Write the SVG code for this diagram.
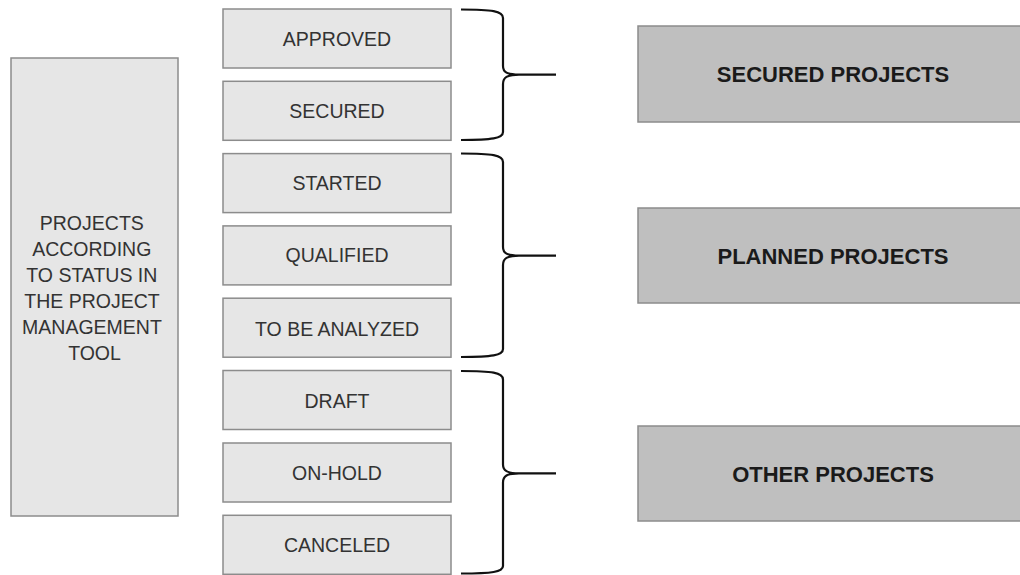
<svg xmlns="http://www.w3.org/2000/svg" width="1020" height="575" viewBox="0 0 1020 575">
  <style>
    .status rect { fill: #e6e6e6; stroke: #8c8c8c; stroke-width: 1.5; }
    .status text { font-family: "Liberation Sans", Arial, sans-serif; font-size: 19.5px; fill: #333333; text-anchor: middle; }
    .source rect { fill: #e6e6e6; stroke: #8c8c8c; stroke-width: 1.5; }
    .source text { font-family: "Liberation Sans", Arial, sans-serif; font-size: 19.5px; fill: #333333; text-anchor: middle; }
    .group rect { fill: #bfbfbf; stroke: #8c8c8c; stroke-width: 1.5; }
    .group text { font-family: "Liberation Sans", Arial, sans-serif; font-size: 22px; font-weight: bold; fill: #1a1a1a; text-anchor: middle; }
    .brace { fill: none; stroke: #111111; stroke-width: 2.2; stroke-linejoin: round; }
  </style>

  <rect width="1020" height="575" fill="#ffffff"/>

  <!-- source box on the left -->
  <g id="node-source" class="source">
    <rect x="11" y="58" width="167" height="458"/>
    <text x="94.5">
      <tspan x="94.5" y="230">PROJECTS</tspan>
      <tspan x="94.5" y="256">ACCORDING</tspan>
      <tspan x="94.5" y="282">TO STATUS IN</tspan>
      <tspan x="94.5" y="308">THE PROJECT</tspan>
      <tspan x="94.5" y="334">MANAGEMENT</tspan>
      <tspan x="94.5" y="360">TOOL</tspan>
    </text>
  </g>

  <!-- status boxes -->
  <g id="node-approved" class="status">
    <rect x="223" y="9" width="228" height="59"/>
    <text x="337" y="45.5">APPROVED</text>
  </g>
  <g id="node-secured" class="status">
    <rect x="223" y="81.3" width="228" height="59"/>
    <text x="337" y="117.8">SECURED</text>
  </g>
  <g id="node-started" class="status">
    <rect x="223" y="153.6" width="228" height="59"/>
    <text x="337" y="190.1">STARTED</text>
  </g>
  <g id="node-qualified" class="status">
    <rect x="223" y="225.9" width="228" height="59"/>
    <text x="337" y="262.4">QUALIFIED</text>
  </g>
  <g id="node-to-be-analyzed" class="status">
    <rect x="223" y="298.2" width="228" height="59"/>
    <text x="337" y="335.5">TO BE ANALYZED</text>
  </g>
  <g id="node-draft" class="status">
    <rect x="223" y="370.5" width="228" height="59"/>
    <text x="337" y="407.5">DRAFT</text>
  </g>
  <g id="node-on-hold" class="status">
    <rect x="223" y="443" width="228" height="59"/>
    <text x="337" y="479.8">ON-HOLD</text>
  </g>
  <g id="node-canceled" class="status">
    <rect x="223" y="515.3" width="228" height="59"/>
    <text x="337" y="552">CANCELED</text>
  </g>

  <!-- category boxes on the right -->
  <g id="node-secured-projects" class="group">
    <rect x="638" y="26" width="392" height="96"/>
    <text x="833" y="81.5">SECURED PROJECTS</text>
  </g>
  <g id="node-planned-projects" class="group">
    <rect x="638" y="208" width="392" height="95"/>
    <text x="833" y="264">PLANNED PROJECTS</text>
  </g>
  <g id="node-other-projects" class="group">
    <rect x="638" y="426" width="392" height="95"/>
    <text x="833" y="481.7">OTHER PROJECTS</text>
  </g>

  <!-- curly braces grouping the statuses -->
  <g id="connectors">
    <path class="brace" d="M461,9.5 C492,9.5 503,11 503,18 L503,66 C503,72 507,74.7 519,74.7 L556,74.7 M519,74.7 C507,74.7 503,77.5 503,84 L503,132 C503,138.5 492,140 461,140"/>
    <path class="brace" d="M461,153.5 C492,153.5 503,155 503,162 L503,247 C503,253 507,255.7 519,255.7 L556,255.7 M519,255.7 C507,255.7 503,258.5 503,265 L503,349 C503,355.5 492,357 461,357"/>
    <path class="brace" d="M461,371 C492,371 503,372.5 503,379.5 L503,464.5 C503,470.5 507,473.3 519,473.3 L556,473.3 M519,473.3 C507,473.3 503,476 503,482.5 L503,566 C503,572 492,573.5 461,573.5"/>
  </g>
</svg>
